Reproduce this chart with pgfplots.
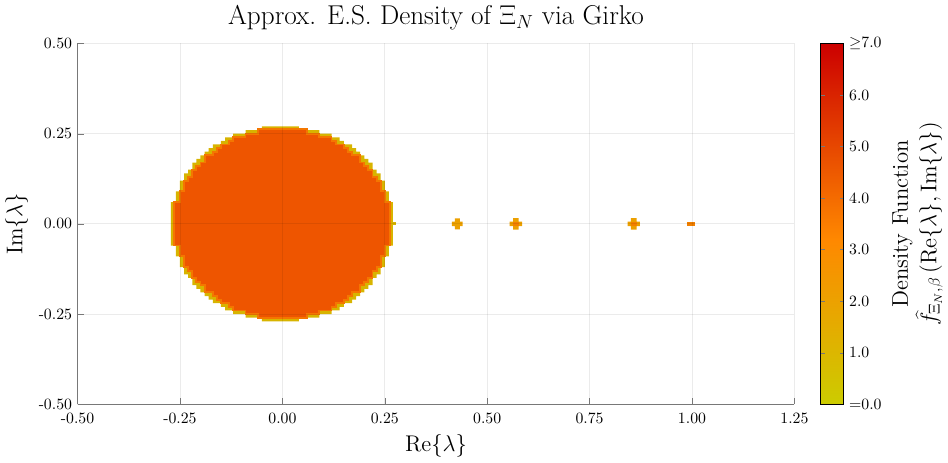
\documentclass[border=0pt]{standalone}
\usepackage{pgfplots}
\pgfplotsset{compat=1.18}
\definecolor{rim}{RGB}{216,180,0}
\definecolor{band}{RGB}{244,118,0}
\definecolor{core}{RGB}{238,85,0}
\definecolor{blobA}{RGB}{236,160,0}
\definecolor{blobB}{RGB}{242,128,0}
\definecolor{axc}{RGB}{120,120,120}
\begin{document}
\begin{tikzpicture}
\begin{axis}[
  width=455pt, height=229pt, scale only axis,
  xmin=-0.5, xmax=1.25, ymin=-0.5, ymax=0.5,
  xtick={-0.5,-0.25,0,0.25,0.5,0.75,1,1.25},
  ytick={-0.5,-0.25,0,0.25,0.5},
  axis x line*=bottom, axis y line*=left,
  axis line style={axc,-},
  tick style={axc}, tick align=inside, major tick length=4pt,
  grid=major, grid style={black, opacity=0.08, line width=0.6pt},
  /pgf/number format/assume math mode=true,
  /pgf/number format/fixed, /pgf/number format/fixed zerofill, /pgf/number format/precision=2,
  xticklabel style={yshift=-2pt},
  title={Approx. E.S. Density of $\Xi_N$ via Girko},
  title style={font=\LARGE, yshift=-1pt},
  xlabel={$\mathrm{Re}\{\lambda\}$}, ylabel={$\mathrm{Im}\{\lambda\}$},
  label style={font=\Large},
  colormap={girko}{rgb255(0)=(204,204,0) rgb255(3.2)=(255,136,0) rgb255(7)=(204,0,0)},
  colorbar, point meta min=0, point meta max=7,
  colorbar style={
    width=14.5pt, xshift=-4pt,
    ytick={0,1,2,3,4,5,6,7},
    yticklabels={=0.0,1.0,2.0,3.0,4.0,5.0,6.0,$\geq$7.0},
    tick align=inside, major tick length=2.5pt,
    ylabel={Density Function\\ $\widehat{f}_{\Xi_N,\beta}\left(\mathrm{Re}\{\lambda\},\mathrm{Im}\{\lambda\}\right)$},
    ylabel style={align=center, font=\Large},
  },
  axis on top,
]
% outer rim of the disk
\addplot[fill=rim, draw=none] coordinates {
(0.27,0) (0.27,0.06) (0.26,0.06) (0.26,0.09) (0.25,0.09) (0.25,0.12) (0.24,0.12) (0.24,0.14) (0.23,0.14) (0.23,0.15) (0.22,0.15) (0.22,0.17) (0.21,0.17) (0.21,0.18) (0.20,0.18) (0.20,0.19) (0.19,0.19) (0.19,0.20) (0.18,0.20) (0.18,0.21) (0.17,0.21) (0.17,0.22) (0.15,0.22) (0.15,0.23) (0.14,0.23) (0.14,0.24) (0.12,0.24) (0.12,0.25) (0.09,0.25) (0.09,0.26) (0.04,0.26) (0.04,0.27)
(-0.05,0.27) (-0.05,0.26) (-0.09,0.26) (-0.09,0.25) (-0.12,0.25) (-0.12,0.24) (-0.14,0.24) (-0.14,0.23) (-0.15,0.23) (-0.15,0.22) (-0.17,0.22) (-0.17,0.21) (-0.18,0.21) (-0.18,0.20) (-0.19,0.20) (-0.19,0.19) (-0.20,0.19) (-0.20,0.18) (-0.21,0.18) (-0.21,0.17) (-0.22,0.17) (-0.22,0.15) (-0.23,0.15) (-0.23,0.14) (-0.24,0.14) (-0.24,0.12) (-0.25,0.12) (-0.25,0.09) (-0.26,0.09) (-0.26,0.06) (-0.272,0.06)
(-0.272,-0.06) (-0.26,-0.06) (-0.26,-0.09) (-0.25,-0.09) (-0.25,-0.12) (-0.24,-0.12) (-0.24,-0.14) (-0.23,-0.14) (-0.23,-0.15) (-0.22,-0.15) (-0.22,-0.17) (-0.21,-0.17) (-0.21,-0.18) (-0.20,-0.18) (-0.20,-0.19) (-0.19,-0.19) (-0.19,-0.20) (-0.18,-0.20) (-0.18,-0.21) (-0.17,-0.21) (-0.17,-0.22) (-0.15,-0.22) (-0.15,-0.23) (-0.14,-0.23) (-0.14,-0.24) (-0.12,-0.24) (-0.12,-0.25) (-0.09,-0.25) (-0.09,-0.26) (-0.05,-0.26) (-0.05,-0.27)
(0.04,-0.27) (0.04,-0.26) (0.09,-0.26) (0.09,-0.25) (0.12,-0.25) (0.12,-0.24) (0.14,-0.24) (0.14,-0.23) (0.15,-0.23) (0.15,-0.22) (0.17,-0.22) (0.17,-0.21) (0.18,-0.21) (0.18,-0.20) (0.19,-0.20) (0.19,-0.19) (0.20,-0.19) (0.20,-0.18) (0.21,-0.18) (0.21,-0.17) (0.22,-0.17) (0.22,-0.15) (0.23,-0.15) (0.23,-0.14) (0.24,-0.14) (0.24,-0.12) (0.25,-0.12) (0.25,-0.09) (0.26,-0.09) (0.26,-0.06) (0.27,-0.06)
} -- cycle;
% inner body of the disk
\addplot[fill=core, draw=band, line width=1.2pt] coordinates {
(0.262,0) (0.262,0.06) (0.25,0.06) (0.25,0.09) (0.24,0.09) (0.24,0.12) (0.23,0.12) (0.23,0.13) (0.22,0.13) (0.22,0.15) (0.21,0.15) (0.21,0.16) (0.20,0.16) (0.20,0.17) (0.19,0.17) (0.19,0.19) (0.17,0.19) (0.17,0.20) (0.16,0.20) (0.16,0.21) (0.15,0.21) (0.15,0.22) (0.13,0.22) (0.13,0.23) (0.12,0.23) (0.12,0.24) (0.09,0.24) (0.09,0.25) (0.06,0.25) (0.06,0.262)
(-0.06,0.262) (-0.06,0.25) (-0.09,0.25) (-0.09,0.24) (-0.12,0.24) (-0.12,0.23) (-0.13,0.23) (-0.13,0.22) (-0.15,0.22) (-0.15,0.21) (-0.16,0.21) (-0.16,0.20) (-0.17,0.20) (-0.17,0.19) (-0.19,0.19) (-0.19,0.17) (-0.20,0.17) (-0.20,0.16) (-0.21,0.16) (-0.21,0.15) (-0.22,0.15) (-0.22,0.13) (-0.23,0.13) (-0.23,0.12) (-0.24,0.12) (-0.24,0.09) (-0.25,0.09) (-0.25,0.06) (-0.264,0.06)
(-0.264,-0.06) (-0.25,-0.06) (-0.25,-0.09) (-0.24,-0.09) (-0.24,-0.12) (-0.23,-0.12) (-0.23,-0.13) (-0.22,-0.13) (-0.22,-0.15) (-0.21,-0.15) (-0.21,-0.16) (-0.20,-0.16) (-0.20,-0.17) (-0.19,-0.17) (-0.19,-0.19) (-0.17,-0.19) (-0.17,-0.20) (-0.16,-0.20) (-0.16,-0.21) (-0.15,-0.21) (-0.15,-0.22) (-0.13,-0.22) (-0.13,-0.23) (-0.12,-0.23) (-0.12,-0.24) (-0.09,-0.24) (-0.09,-0.25) (-0.06,-0.25) (-0.06,-0.262)
(0.06,-0.262) (0.06,-0.25) (0.09,-0.25) (0.09,-0.24) (0.12,-0.24) (0.12,-0.23) (0.13,-0.23) (0.13,-0.22) (0.15,-0.22) (0.15,-0.21) (0.16,-0.21) (0.16,-0.20) (0.17,-0.20) (0.17,-0.19) (0.19,-0.19) (0.19,-0.17) (0.20,-0.17) (0.20,-0.16) (0.21,-0.16) (0.21,-0.15) (0.22,-0.15) (0.22,-0.13) (0.23,-0.13) (0.23,-0.12) (0.24,-0.12) (0.24,-0.09) (0.25,-0.09) (0.25,-0.06) (0.262,-0.06)
} -- cycle;
% small protrusion at right edge
\addplot[fill=rim, draw=none] coordinates {(0.268,-0.004) (0.277,-0.004) (0.277,0.004) (0.268,0.004)} -- cycle;
% isolated eigenvalue clusters
\addplot[fill=blobA, draw=none] coordinates {(0.414,-0.006) (0.421,-0.006) (0.421,-0.015) (0.433,-0.015) (0.433,-0.006) (0.440,-0.006) (0.440,0.006) (0.433,0.006) (0.433,0.015) (0.421,0.015) (0.421,0.006) (0.414,0.006)} -- cycle;
\addplot[fill=blobA, draw=none] coordinates {(0.555,-0.006) (0.563,-0.006) (0.563,-0.016) (0.577,-0.016) (0.577,-0.006) (0.585,-0.006) (0.585,0.006) (0.577,0.006) (0.577,0.016) (0.563,0.016) (0.563,0.006) (0.555,0.006)} -- cycle;
\addplot[fill=blobB, draw=none] coordinates {(0.563,-0.006) (0.577,-0.006) (0.577,0.006) (0.563,0.006)} -- cycle;
\addplot[fill=blobA, draw=none] coordinates {(0.843,-0.006) (0.851,-0.006) (0.851,-0.016) (0.865,-0.016) (0.865,-0.006) (0.873,-0.006) (0.873,0.006) (0.865,0.006) (0.865,0.016) (0.851,0.016) (0.851,0.006) (0.843,0.006)} -- cycle;
\addplot[fill=blobB, draw=none] coordinates {(0.851,-0.006) (0.865,-0.006) (0.865,0.006) (0.851,0.006)} -- cycle;
\addplot[fill=blobB, draw=none] coordinates {(0.989,-0.005) (1.008,-0.005) (1.008,0.005) (0.989,0.005)} -- cycle;
\end{axis}
\end{tikzpicture}
\end{document}
